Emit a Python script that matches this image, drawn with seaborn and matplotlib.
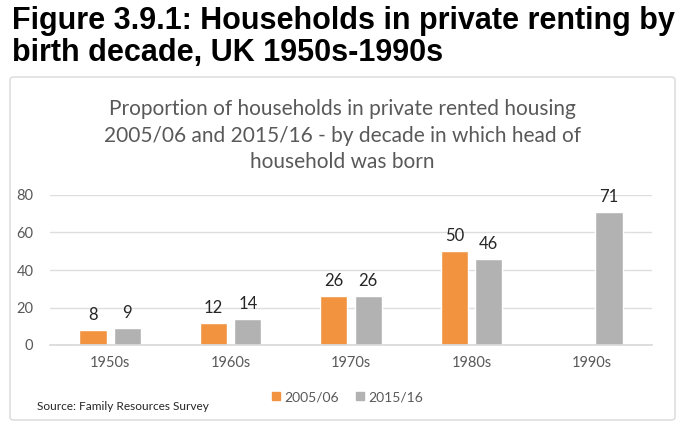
import matplotlib
matplotlib.use("Agg")
import matplotlib.pyplot as plt
from matplotlib.patches import FancyBboxPatch
from matplotlib.lines import Line2D
import seaborn as sns
import pandas as pd
import numpy as np

decades = ["1950s", "1960s", "1970s", "1980s", "1990s"]
series = ["2005/06", "2015/16"]
vals_2005 = [8, 12, 26, 50, np.nan]
vals_2015 = [9, 14, 26, 46, 71]
yticks = [0, 20, 40, 60, 80]

colors = {"2005/06": "#F29340", "2015/16": "#B2B2B2"}

df = pd.DataFrame({
    "decade": decades * 2,
    "series": [series[0]] * 5 + [series[1]] * 5,
    "value": vals_2005 + vals_2015,
})

sns.set_theme(style="white")
plt.rcParams["font.family"] = ["Lato", "DejaVu Sans"]

W, H = 685, 425
fig = plt.figure(figsize=(W / 100, H / 100), dpi=100)

def fx(px):
    return px / W

def fy(py):
    return 1 - py / H

# outer box
box = FancyBboxPatch((fx(10), fy(420)), fx(665), (420 - 77) / H,
                     boxstyle="round,pad=0,rounding_size=0.006",
                     transform=fig.transFigure, facecolor="white",
                     edgecolor="#D9D9D9", linewidth=1.0, zorder=-5)
fig.patches.append(box)

# figure title
fig.text(fx(12), fy(6), "Figure 3.9.1: Households in private renting by\nbirth decade, UK 1950s-1990s",
         ha="left", va="top", fontsize=22, fontweight="bold",
         family=["Liberation Sans Narrow", "Liberation Sans", "DejaVu Sans"],
         color="black", linespacing=1.1)

# chart title
fig.text(fx(342), fy(99), "Proportion of households in private rented housing\n2005/06 and 2015/16 - by decade in which head of\nhousehold was born",
         ha="center", va="top", fontsize=15, color="#595959", linespacing=1.42)

ax = fig.add_axes([fx(50), fy(345), fx(652) - fx(50), (345 - 195) / H])
ax.patch.set_alpha(0)
sns.barplot(data=df, x="decade", y="value", hue="series", order=decades,
            hue_order=series, palette=colors, width=0.57, gap=0.21,
            saturation=1, ax=ax, legend=False, errorbar=None)

ax.set_ylim(0, 80)
ax.set_xlim(-0.5, 4.5)
ax.set_yticks(yticks)
ax.yaxis.grid(True, color="#DEDEDE", linewidth=1)
ax.set_axisbelow(True)
for s in ["top", "right", "left"]:
    ax.spines[s].set_visible(False)
ax.spines["bottom"].set_color("#D9D9D9")
ax.tick_params(axis="both", length=0, colors="#595959", labelsize=10.5)
ax.tick_params(axis="y", pad=12)
ax.tick_params(axis="x", pad=8)
ax.set_xlabel("")
ax.set_ylabel("")

for cont in ax.containers:
    ax.bar_label(cont, fmt="%.0f", padding=5, fontsize=12, color="#262626")

handles = [Line2D([], [], marker="s", linestyle="none", markersize=6,
                  markerfacecolor=colors[s], markeredgecolor=colors[s], label=s)
           for s in series]
fig.legend(handles=handles, loc="center", bbox_to_anchor=(fx(346), fy(397)),
           ncol=2, frameon=False, fontsize=10, handletextpad=0.1,
           handlelength=1.0, columnspacing=1.0, labelcolor="#595959")

fig.text(fx(37), fy(407), "Source: Family Resources Survey", ha="left", va="center",
         fontsize=8.6, color="#262626")

fig.savefig("out.png", dpi=100)
